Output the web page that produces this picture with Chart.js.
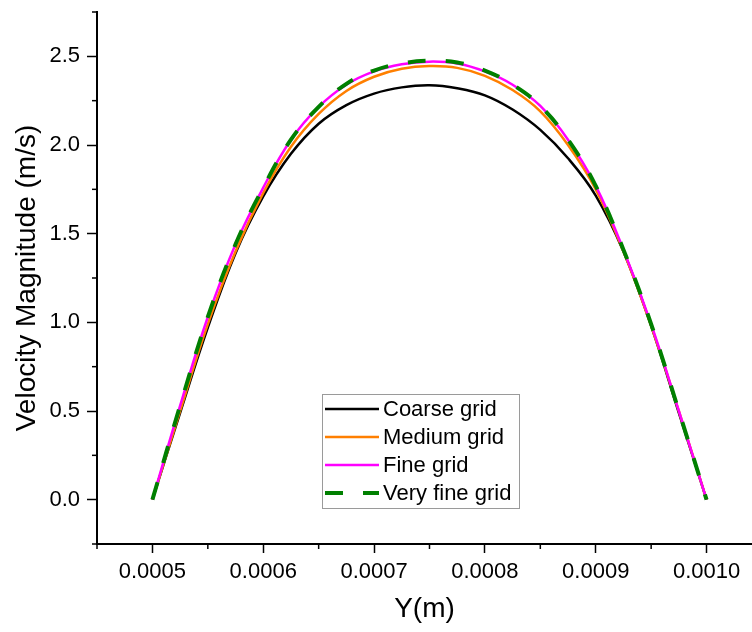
<!DOCTYPE html>
<html><head><meta charset="utf-8">
<script src="https://cdn.jsdelivr.net/npm/chart.js@4"></script>
<style>html,body{margin:0;padding:0;background:#fff;overflow:hidden}#wrap{width:752px;height:632px;position:relative}</style>
</head><body><div id="wrap"><canvas id="c" width="752" height="632"></canvas></div>
<script>
// ---- data ----
const yPositions = [0.0005, 0.000525, 0.00055, 0.000575, 0.0006, 0.000625, 0.00065, 0.000675, 0.0007, 0.000725, 0.00075,
                    0.000775, 0.0008, 0.000825, 0.00085, 0.000875, 0.0009, 0.000925, 0.00095, 0.000975, 0.001];
const coarseGrid   = [0, 0.49, 0.97, 1.39, 1.71, 1.95, 2.12, 2.225, 2.29, 2.325, 2.337, 2.32, 2.28, 2.20, 2.085, 1.925, 1.715, 1.40, 0.98, 0.49, 0];
const mediumGrid   = [0, 0.50, 0.99, 1.40, 1.73, 1.99, 2.175, 2.305, 2.385, 2.43, 2.445, 2.435, 2.39, 2.31, 2.19, 2.00, 1.75, 1.40, 0.98, 0.50, 0];
const fineGrid     = [0, 0.53, 1.03, 1.44, 1.76, 2.03, 2.215, 2.34, 2.415, 2.455, 2.47, 2.46, 2.415, 2.34, 2.22, 2.03, 1.77, 1.41, 0.99, 0.50, 0];
const veryFineGrid = [0, 0.53, 1.03, 1.44, 1.76, 2.03, 2.215, 2.345, 2.42, 2.46, 2.475, 2.465, 2.42, 2.34, 2.22, 2.03, 1.77, 1.41, 0.99, 0.50, 0];
const seriesNames  = ['Coarse grid', 'Medium grid', 'Fine grid', 'Very fine grid'];
const xTickValues  = [0.0005, 0.0006, 0.0007, 0.0008, 0.0009, 0.0010];
const xTickLabels  = ['0.0005', '0.0006', '0.0007', '0.0008', '0.0009', '0.0010'];
const xMinorTicks  = [0.00045, 0.00055, 0.00065, 0.00075, 0.00085, 0.00095];
const yTickValues  = [0, 0.5, 1.0, 1.5, 2.0, 2.5];
const yTickLabels  = ['0.0', '0.5', '1.0', '1.5', '2.0', '2.5'];
const yMinorTicks  = [-0.25, 0.25, 0.75, 1.25, 1.75, 2.25, 2.75];
const xTitle = 'Y(m)';
const yTitle = 'Velocity Magnitude (m/s)';

// ---- styles ----
const FONT = "'Liberation Sans', Arial, sans-serif";
const colors = ['#000000', '#ff7f00', '#ff00ff', '#008000'];
const widths = [2.5, 2.5, 2.5, 4];
const dashes = [[], [], [], [18, 20]];
const seriesValues = [coarseGrid, mediumGrid, fineGrid, veryFineGrid];

Chart.defaults.font.family = FONT;
Chart.defaults.color = '#000';

const datasets = seriesValues.map((vals, i) => ({
  label: seriesNames[i],
  data: vals.map((v, j) => ({x: yPositions[j], y: v})),
  borderColor: colors[i],
  backgroundColor: colors[i],
  borderWidth: widths[i],
  borderDash: dashes[i],
  borderCapStyle: 'butt',
  pointRadius: 0,
  fill: false,
  tension: 0.4,
  order: 4 - i
}));

const extras = {
  id: 'extras',
  afterDraw(chart) {
    const ctx = chart.ctx, xs = chart.scales.x, ys = chart.scales.y, a = chart.chartArea;
    ctx.save();
    ctx.strokeStyle = '#000';
    ctx.lineWidth = 1.5;
    xMinorTicks.forEach(v => {
      const p = xs.getPixelForValue(v);
      ctx.beginPath(); ctx.moveTo(p, a.bottom); ctx.lineTo(p, a.bottom + 5); ctx.stroke();
    });
    yMinorTicks.forEach(v => {
      const p = ys.getPixelForValue(v);
      ctx.beginPath(); ctx.moveTo(a.left, p); ctx.lineTo(a.left - 5, p); ctx.stroke();
    });
    // legend
    const lx = a.left + 225, ly = a.top + 382, lw = 197, lh = 114;
    ctx.fillStyle = '#fff';
    ctx.fillRect(lx, ly, lw, lh);
    ctx.strokeStyle = '#9a9a9a';
    ctx.lineWidth = 1;
    ctx.strokeRect(lx + 0.5, ly + 0.5, lw, lh);
    ctx.font = '22px ' + FONT;
    ctx.textBaseline = 'middle';
    ctx.textAlign = 'left';
    seriesNames.forEach((name, i) => {
      const yy = ly + 15 + i * 28;
      ctx.strokeStyle = colors[i];
      ctx.lineWidth = widths[i];
      ctx.setLineDash(dashes[i]);
      ctx.beginPath(); ctx.moveTo(lx + 3, yy); ctx.lineTo(lx + 57, yy); ctx.stroke();
      ctx.setLineDash([]);
      ctx.fillStyle = '#000';
      ctx.fillText(name, lx + 61, yy + 1);
    });
    ctx.restore();
  }
};

new Chart(document.getElementById('c'), {
  type: 'line',
  data: {datasets},
  options: {
    responsive: false,
    animation: false,
    layout: {padding: {top: 12, right: 0, left: 0, bottom: 0}, autoPadding: false},
    plugins: {legend: {display: false}, tooltip: {enabled: false}},
    scales: {
      x: {
        type: 'linear', min: 0.00045, max: 0.001041,
        afterBuildTicks: s => { s.ticks = xTickValues.map(v => ({value: v})); },
        afterFit: s => { s.height = 88; s.paddingLeft = 0; s.paddingRight = 0; },
        ticks: {callback: (v, i) => xTickLabels[i], font: {size: 22, family: FONT}, color: '#000', padding: 6, maxRotation: 0, autoSkip: false},
        grid: {drawOnChartArea: false, drawTicks: true, tickLength: 9, tickWidth: 1.5, tickColor: '#000'},
        border: {display: true, color: '#000', width: 2},
        title: {display: true, text: xTitle, font: {size: 28, family: FONT}, color: '#000', padding: {top: 0, bottom: 6}}
      },
      y: {
        type: 'linear', min: -0.25, max: 2.75,
        afterBuildTicks: s => { s.ticks = yTickValues.map(v => ({value: v})); },
        afterFit: s => { s.width = 97; s.paddingTop = 0; s.paddingBottom = 0; },
        ticks: {callback: (v, i) => yTickLabels[i], font: {size: 22, family: FONT}, color: '#000', padding: 7, autoSkip: false},
        grid: {drawOnChartArea: false, drawTicks: true, tickLength: 10, tickWidth: 1.5, tickColor: '#000'},
        border: {display: true, color: '#000', width: 2},
        title: {display: true, text: yTitle, font: {size: 28, family: FONT}, color: '#000', padding: {top: 10, bottom: 0}}
      }
    }
  },
  plugins: [extras]
});
</script></body></html>
